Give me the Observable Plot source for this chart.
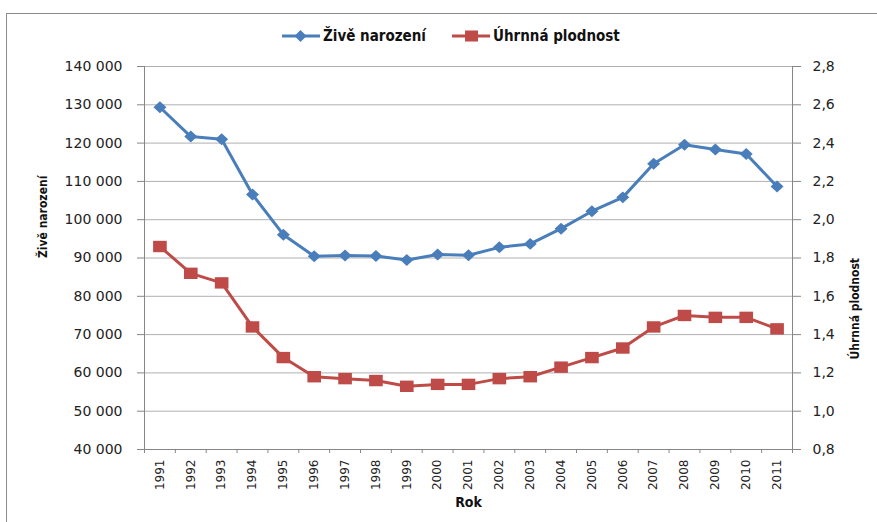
<!DOCTYPE html>
<html>
<head>
<meta charset="utf-8">
<script src="https://cdn.jsdelivr.net/npm/d3@7"></script>
<script src="https://cdn.jsdelivr.net/npm/@observablehq/plot@0.6"></script>
<style>
  html, body { margin: 0; padding: 0; background: #fff; }
  #wrap { position: relative; width: 877px; height: 522px; overflow: hidden; font-family: "DejaVu Sans", sans-serif; }
  #frame { position: absolute; left: 6px; top: 13px; width: 900px; height: 600px; border-top: 1.5px solid #8c8c8c; border-left: 1.5px solid #8c8c8c; pointer-events: none; }
  #legend { position: absolute; left: 282px; top: 27px; height: 18px; display: flex; align-items: center; font-family: "DejaVu Sans Condensed", "DejaVu Sans", sans-serif; font-weight: bold; font-size: 15px; color: #111; }
  #legend .item { display: flex; align-items: center; }
  #legend svg { display: block; margin-right: 3px; }
  #chart { position: absolute; left: 0; top: 50px; }
</style>
</head>
<body>
<div id="wrap">
  <div id="legend"></div>
  <div id="chart"></div>
  <div id="frame"></div>
</div>
<script>
// ---- data ----
const years = [1991,1992,1993,1994,1995,1996,1997,1998,1999,2000,2001,2002,2003,2004,2005,2006,2007,2008,2009,2010,2011];
const births = [129354,121705,121025,106579,96097,90446,90657,90535,89471,90910,90715,92786,93685,97664,102211,105831,114632,119570,118348,117153,108673];
const fertility = [1.86,1.72,1.67,1.44,1.28,1.18,1.17,1.16,1.13,1.14,1.14,1.17,1.18,1.23,1.28,1.33,1.44,1.50,1.49,1.49,1.43];
const leftTicks = [40000,50000,60000,70000,80000,90000,100000,110000,120000,130000,140000];
const rightTickLabels = ["0,8","1,0","1,2","1,4","1,6","1,8","2,0","2,2","2,4","2,6","2,8"];
const leftDomain = [40000, 140000];
const rightDomain = [0.8, 2.8];
const seriesNames = ["Živě narození", "Úhrnná plodnost"];
const colors = ["#4a7ebb", "#be4b48"];

// map secondary-axis values onto primary scale
const toLeft = v => leftDomain[0] + (v - rightDomain[0]) / (rightDomain[1] - rightDomain[0]) * (leftDomain[1] - leftDomain[0]);

const rows = years.map((y, i) => ({year: y, births: births[i], tfr: toLeft(fertility[i])}));
const bounds = [years[0] - 0.5, ...years.map(y => y + 0.5)];

const diamond = {draw(ctx, size) { const r = Math.sqrt(size / Math.PI); const w = r, h = r * 0.92; ctx.moveTo(0, -h); ctx.lineTo(w, 0); ctx.lineTo(0, h); ctx.lineTo(-w, 0); ctx.closePath(); }};
const rectSym = {draw(ctx, size) { const r = Math.sqrt(size / Math.PI); const w = r * 1.1, h = r * 0.92; ctx.rect(-w, -h, 2 * w, 2 * h); }};

const fmtLeft = d => d3.format(",")(d).replace(/,/g, "\u00a0");
const fmtRight = d => rightTickLabels[leftTicks.indexOf(d)];
const axisColor = "#868686";

const plot = Plot.plot({
  width: 877,
  height: 472,
  marginLeft: 144,
  marginRight: 85,
  marginTop: 16,
  marginBottom: 73,
  x: {domain: [bounds[0], bounds[bounds.length - 1]], axis: null},
  y: {domain: leftDomain, axis: null},
  style: {fontFamily: "DejaVu Sans, sans-serif", fontSize: "13px", color: "#222", background: "transparent"},
  marks: [
    Plot.gridY(leftTicks, {stroke: "#b0b0b0", strokeOpacity: 1, strokeWidth: 1}),
    Plot.ruleX([bounds[0], bounds[bounds.length - 1]], {stroke: axisColor}),
    Plot.ruleY([leftDomain[0]], {stroke: axisColor}),
    Plot.axisY(leftTicks, {anchor: "left", tickSize: 7, tickPadding: 15, tickFormat: fmtLeft, stroke: axisColor, fill: "#222", fontSize: 14, label: null}),
    Plot.axisY(leftTicks, {anchor: "right", tickSize: 8, tickPadding: 12, tickFormat: fmtRight, stroke: axisColor, fill: "#222", fontSize: 14, label: null}),
    Plot.axisX(bounds, {anchor: "bottom", tickSize: 4, tickFormat: () => "", stroke: axisColor, label: null}),
    Plot.axisX(years, {anchor: "bottom", tickSize: 0, tickPadding: 10, tickRotate: -90, tickFormat: d => String(d), fill: "#222", fontSize: 12, label: null}),
    Plot.text([seriesNames[0]], {frameAnchor: "left", dx: -101, rotate: -90, fontFamily: "DejaVu Sans Condensed, DejaVu Sans", fontWeight: "bold", fontSize: 12, fill: "#111"}),
    Plot.text([seriesNames[1]], {frameAnchor: "right", dx: 63, rotate: -90, fontFamily: "DejaVu Sans Condensed, DejaVu Sans", fontWeight: "bold", fontSize: 12, fill: "#111"}),
    Plot.text(["Rok"], {frameAnchor: "bottom", dy: 57, fontFamily: "DejaVu Sans Condensed, DejaVu Sans", fontWeight: "bold", fontSize: 14, fill: "#111"}),
    Plot.line(rows, {x: "year", y: "births", stroke: colors[0], strokeWidth: 3}),
    Plot.dot(rows, {x: "year", y: "births", symbol: diamond, r: 6.5, fill: colors[0], stroke: "none"}),
    Plot.line(rows, {x: "year", y: "tfr", stroke: colors[1], strokeWidth: 3}),
    Plot.dot(rows, {x: "year", y: "tfr", symbol: rectSym, r: 6.2, fill: colors[1], stroke: "none"})
  ]
});
document.getElementById("chart").appendChild(plot);

// legend (HTML, above the SVG)
const legend = document.getElementById("legend");
seriesNames.forEach((name, i) => {
  const item = document.createElement("div");
  item.className = "item";
  if (i > 0) item.style.marginLeft = "26px";
  const marker = i === 0
    ? `<path d="M18.5,12 L24.5,18 L18.5,24 L12.5,18 Z" transform="translate(0,-9)" fill="${colors[i]}"/>`
    : `<rect x="13" y="3.5" width="13" height="11" fill="${colors[i]}"/>`;
  item.innerHTML = `<svg width="38" height="18"><line x1="0" y1="9" x2="38" y2="9" stroke="${colors[i]}" stroke-width="3"/>${marker}</svg><span>${name}</span>`;
  legend.appendChild(item);
});
</script>
</body>
</html>
